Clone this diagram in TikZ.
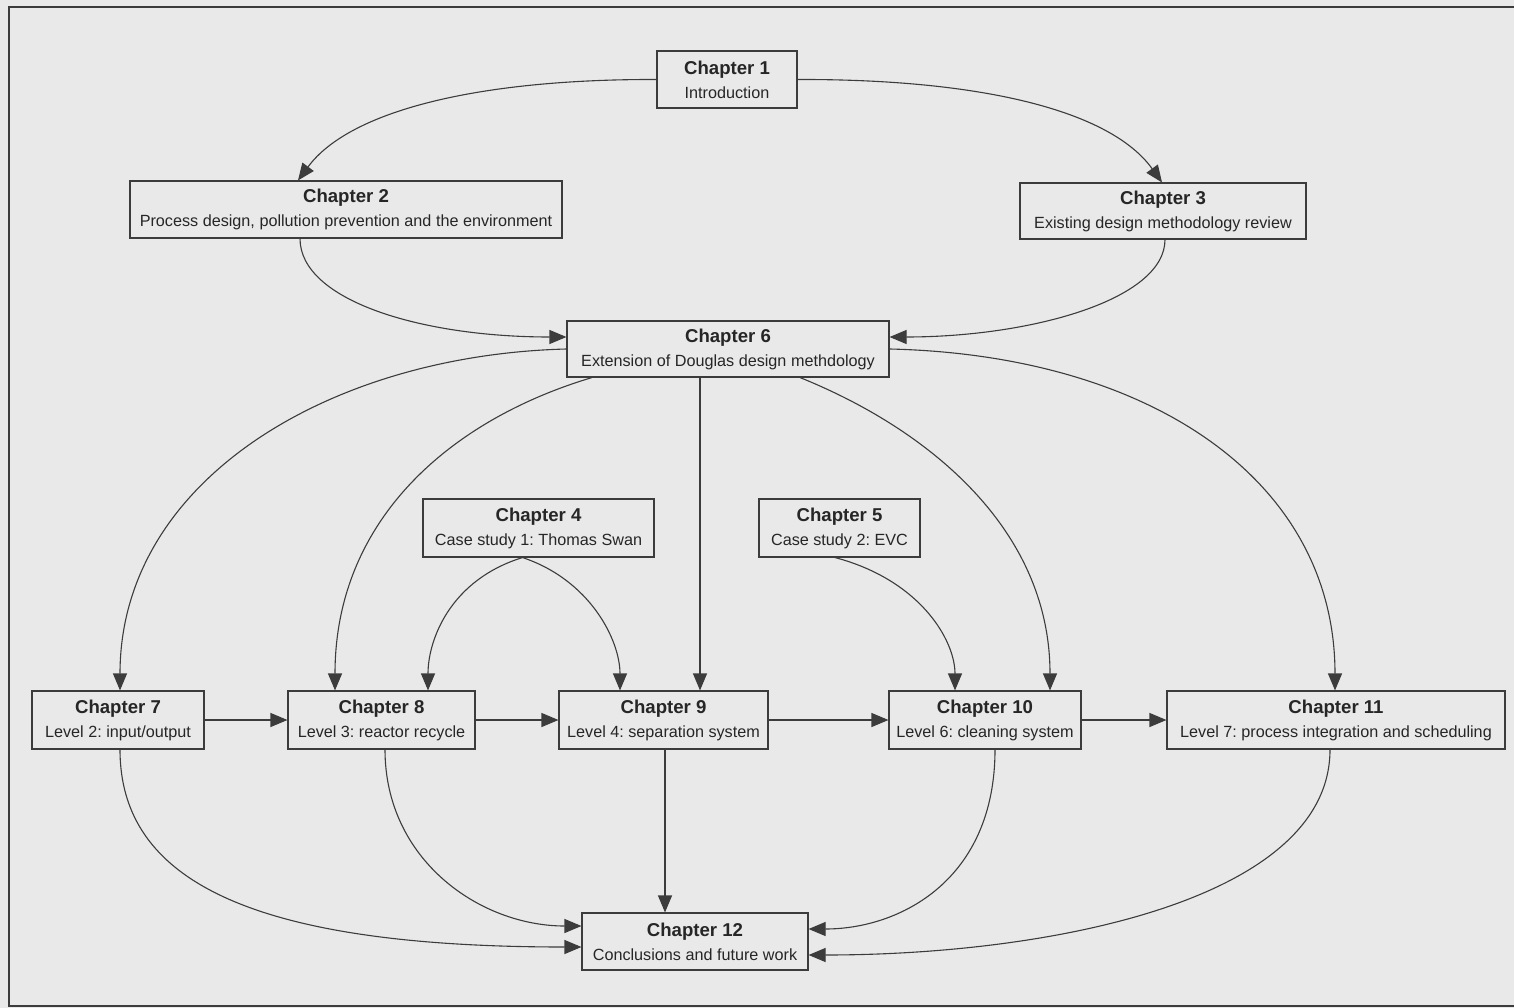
\documentclass[tikz,border=0pt]{standalone}
\usepackage{fontspec}
\setmainfont{Liberation Sans}
\usetikzlibrary{arrows.meta}
\definecolor{bg}{HTML}{E9E9E9}
\definecolor{ln}{HTML}{3C3C3C}
\definecolor{tx}{HTML}{262626}
\frenchspacing
\tikzset{
  chap/.style={draw=ln, line width=1.1pt, fill=bg, rectangle, align=center, text=tx, inner sep=0pt,
    font=\fontsize{16.2}{24}\selectfont},
  conn/.style={draw=ln, line width=1.1pt, -{Triangle[length=17pt,width=14pt]}},
}
\newcommand{\ct}[1]{{\fontsize{18.6}{24}\selectfont\bfseries #1}}
\begin{document}
\begin{tikzpicture}[x=1pt,y=-1pt]
\useasboundingbox (0,0) rectangle (1514,1008);
\fill[bg] (0,0) rectangle (1514,1008);
\draw[ln, line width=1.2pt] (1514,7) -- (9,7) -- (9,1006) -- (1514,1006);

\node[chap, minimum width=140pt, minimum height=57pt] (ch1) at (727,79.5) {\ct{Chapter 1}\\Introduction};
\node[chap, minimum width=432pt, minimum height=57pt] (ch2) at (346,209.5) {\ct{Chapter 2}\\Process design, pollution prevention and the environment};
\node[chap, minimum width=286pt, minimum height=56pt] (ch3) at (1163,211) {\ct{Chapter 3}\\Existing design methodology review};
\node[chap, minimum width=322pt, minimum height=56pt] (ch6) at (728,349) {\ct{Chapter 6}\\Extension of Douglas design methdology};
\node[chap, minimum width=231pt, minimum height=58pt] (ch4) at (538.5,528) {\ct{Chapter 4}\\Case study 1: Thomas Swan};
\node[chap, minimum width=161pt, minimum height=58pt] (ch5) at (839.5,528) {\ct{Chapter 5}\\Case study 2: EVC};
\node[chap, minimum width=172pt, minimum height=58pt] (ch7) at (118,720) {\ct{Chapter 7}\\Level 2: input/output};
\node[chap, minimum width=187pt, minimum height=58pt] (ch8) at (381.5,720) {\ct{Chapter 8}\\Level 3: reactor recycle};
\node[chap, minimum width=209pt, minimum height=58pt] (ch9) at (663.5,720) {\ct{Chapter 9}\\Level 4: separation system};
\node[chap, minimum width=192pt, minimum height=58pt] (ch10) at (985,720) {\ct{Chapter 10}\\Level 6: cleaning system};
\node[chap, minimum width=338pt, minimum height=58pt] (ch11) at (1336,720) {\ct{Chapter 11}\\Level 7: process integration and scheduling};
\node[chap, minimum width=226pt, minimum height=57pt] (ch12) at (695,941.5) {\ct{Chapter 12}\\Conclusions and future work};

% from chapter 1
\draw[conn] (ch1.west) .. controls (480,79) and (350,110) .. ([xshift=-48pt]ch2.north);
\draw[conn] (ch1.east) .. controls (980,79) and (1110,110) .. ([xshift=-1pt]ch3.north);
% into chapter 6
\draw[conn] ([xshift=-46pt]ch2.south) .. controls (300,300) and (420,337) .. ([yshift=12pt]ch6.west);
\draw[conn] ([xshift=2pt]ch3.south) .. controls (1165,300) and (1030,337) .. ([yshift=12pt]ch6.east);
% from chapter 6
\draw[conn] (ch6.west) .. controls (330,355) and (120,480) .. ([xshift=2pt]ch7.north);
\draw[conn] ([xshift=-136pt]ch6.south) .. controls (450,420) and (335,520) .. ([xshift=-46.5pt]ch8.north);
\draw[conn] ([xshift=-28pt]ch6.south) -- ([xshift=36.5pt]ch9.north);
\draw[conn] ([xshift=72pt]ch6.south) .. controls (930,430) and (1050,530) .. ([xshift=65pt]ch10.north);
\draw[conn] (ch6.east) .. controls (1150,355) and (1335,480) .. ([xshift=-1pt]ch11.north);
% case studies
\draw[conn] ([xshift=-16pt]ch4.south) .. controls (450,580) and (428,640) .. ([xshift=46.5pt]ch8.north);
\draw[conn] ([xshift=-16pt]ch4.south) .. controls (590,580) and (620,640) .. ([xshift=-43.5pt]ch9.north);
\draw[conn] ([xshift=-4.5pt]ch5.south) .. controls (920,580) and (955,640) .. ([xshift=-30pt]ch10.north);
% chain
\draw[conn] (ch7.east) -- (ch8.west);
\draw[conn] (ch8.east) -- (ch9.west);
\draw[conn] (ch9.east) -- (ch10.west);
\draw[conn] (ch10.east) -- (ch11.west);
% into chapter 12
\draw[conn] ([xshift=2pt]ch7.south) .. controls (120,880) and (250,947) .. ([yshift=-5.5pt]ch12.west);
\draw[conn] ([xshift=3.5pt]ch8.south) .. controls (385,860) and (480,926) .. ([yshift=15.5pt]ch12.west);
\draw[conn] ([xshift=1.5pt]ch9.south) -- ([xshift=-30pt]ch12.north);
\draw[conn] ([xshift=10pt]ch10.south) .. controls (995,880) and (900,929) .. ([yshift=12.5pt]ch12.east);
\draw[conn] ([xshift=-6pt]ch11.south) .. controls (1330,900) and (1050,955) .. ([yshift=-13.5pt]ch12.east);
\end{tikzpicture}
\end{document}
